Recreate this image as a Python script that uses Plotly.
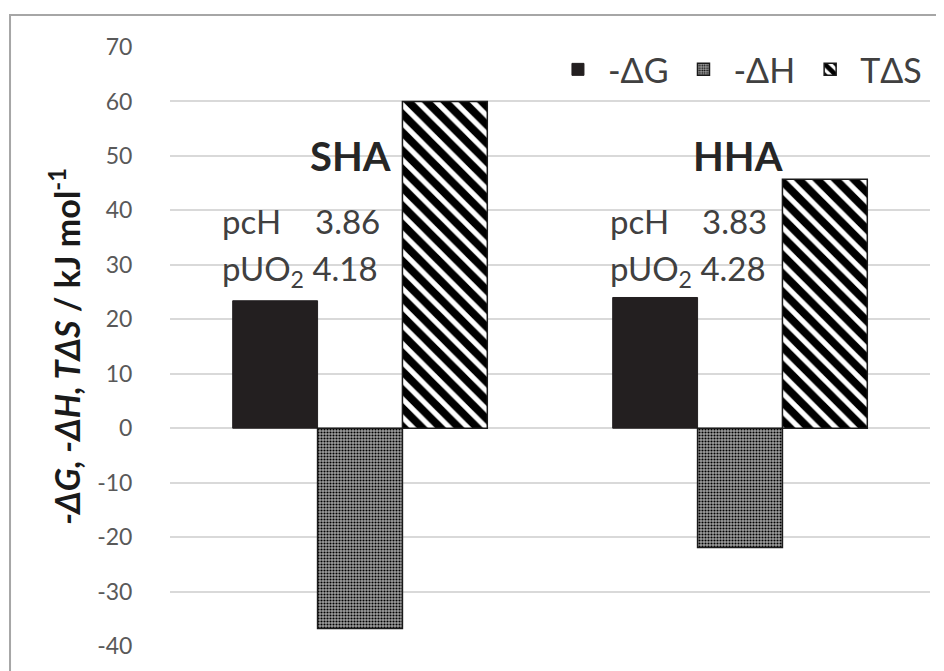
import plotly.graph_objects as go

categories = ["SHA", "HHA"]
neg_dG = [23.4, 24.0]
neg_dH = [-36.8, -21.9]
TdS = [60.0, 45.7]
series_names = ["-ΔG", "-ΔH", "TΔS"]
pcH = ["3.86", "3.83"]
pUO2 = ["4.18", "4.28"]
y_ticks = list(range(-40, 80, 10))
y_ticktext = [str(v) for v in y_ticks]

FONT = "Lato"
fig = go.Figure()
fig.add_trace(go.Bar(
    x=categories, y=neg_dG, name=series_names[0],
    marker=dict(color="#231f20", line=dict(color="#231f20", width=1)),
))
fig.add_trace(go.Bar(
    x=categories, y=neg_dH, name=series_names[1],
    marker=dict(color="white", line=dict(color="#1a1a1a", width=1.5),
                pattern=dict(shape=".", fgcolor="#000000", bgcolor="#a0a0a0",
                             fgopacity=1, size=3, solidity=0.4)),
))
fig.add_trace(go.Bar(
    x=categories, y=TdS, name=series_names[2],
    marker=dict(color="white", line=dict(color="#1a1a1a", width=1.5),
                pattern=dict(shape="\\", fgcolor="#000000", bgcolor="white",
                             fgopacity=1, size=13, solidity=0.6)),
))

annotations = []
title_x = [0.238, 0.748]
pc_x = [0.0658, 0.576]
val_x = [0.188, 0.697]
for i, c in enumerate(categories):
    annotations.append(dict(text=f"<b>{c}</b>", x=title_x[i], xref="paper", xanchor="center",
                            y=50.0, yref="y", showarrow=False,
                            font=dict(family=FONT, size=40, color="#262626")))
    annotations.append(dict(text="pcH", x=pc_x[i], xref="paper", xanchor="left",
                            y=38.0, yref="y", showarrow=False,
                            font=dict(family=FONT, size=33, color="#404040")))
    annotations.append(dict(text=pcH[i], x=val_x[i], xref="paper", xanchor="left",
                            y=38.0, yref="y", showarrow=False,
                            font=dict(family=FONT, size=33, color="#404040")))
    annotations.append(dict(text=f"pUO<sub>2</sub> {pUO2[i]}", x=pc_x[i], xref="paper",
                            xanchor="left", y=29.0, yref="y", showarrow=False,
                            font=dict(family=FONT, size=33, color="#404040")))

annotations.append(dict(
    text="<b><i>-ΔG, -ΔH, TΔS</i> / kJ mol<sup>-1</sup></b>",
    x=-0.139, xref="paper", xanchor="center", y=0.5, yref="paper", yanchor="middle",
    textangle=-90, showarrow=False, font=dict(family=FONT, size=34, color="#1a1a1a")))

fig.update_layout(
    width=944, height=671,
    margin=dict(l=162, r=22, t=39, b=33),
    paper_bgcolor="white", plot_bgcolor="white",
    barmode="group", bargap=0.33, bargroupgap=0,
    font=dict(family=FONT),
    showlegend=True,
    legend=dict(orientation="h", x=0.996, xanchor="right", y=0.962, yanchor="middle",
                font=dict(family=FONT, size=34, color="#404040"),
                itemwidth=50,
                bgcolor="rgba(0,0,0,0)", traceorder="normal"),
    annotations=annotations,
    shapes=[dict(type="rect", xref="paper", yref="paper",
                 x0=-0.2105, x1=1.2, y0=-0.3, y1=1.0534,
                 line=dict(color="#a6a6a6", width=2), layer="below")],
)
fig.update_xaxes(showticklabels=False, showgrid=False, zeroline=False, showline=False)
fig.update_yaxes(range=[-40, 70], tickvals=y_ticks, ticktext=y_ticktext,
                 showgrid=True, gridcolor="#d9d9d9",
                 gridwidth=2, zeroline=False, showline=False,
                 ticks="outside", ticklen=32, tickcolor="rgba(0,0,0,0)",
                 tickfont=dict(family=FONT, size=23, color="#595959"))

fig.write_html("out.html")
